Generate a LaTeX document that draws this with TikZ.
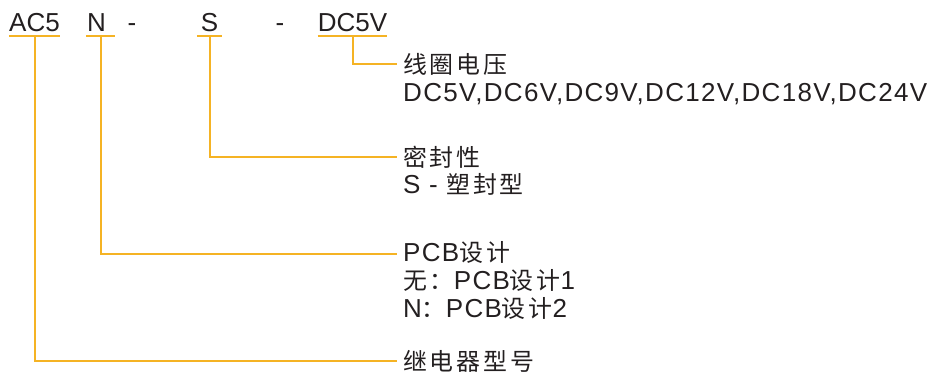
\documentclass[tikz,border=0pt]{standalone}
\usepackage{fontspec}
\setmainfont{Liberation Sans}
\newfontfamily\zhfont{Noto Sans CJK SC}[Scale=0.92,LetterSpace=12]
\newfontfamily\enfont{Liberation Sans}[LetterSpace=5]
\newcommand{\zh}[1]{{\zhfont #1}}
\usepackage{tikz}
\usetikzlibrary{positioning}
\definecolor{leadcol}{HTML}{F5B324}
\definecolor{inkcol}{HTML}{231F20}

\begin{document}
\begin{tikzpicture}[x=1pt,y=-1pt,
code/.style={inner sep=0pt,anchor=south,text=inkcol,font=\fontsize{26}{30}\selectfont},
desc/.style={inner xsep=6pt,inner ysep=0pt,anchor=base west,text=inkcol,font=\fontsize{26}{30}\selectfont\enfont},
lead/.style={draw=leadcol,line width=2pt}]
\useasboundingbox (0,0) rectangle (931,375);
\node[code,minimum width=51] (ac) at (34.5,32) {AC5};
\node[code,minimum width=29] (pcb) at (100.5,32) {N\kern8pt};
\node[code] (d1) at (132,32) {-};
\node[code,minimum width=25] (seal) at (209.5,32) {S};
\node[code] (d2) at (280,32) {-};
\node[code,minimum width=69] (volt) at (352.5,32) {DC5V};
\foreach \n in {ac,pcb,seal,volt} {
\draw[lead] ([yshift=-4pt]\n.south west) -- ([yshift=-4pt]\n.south east);
}
\node[desc] (coil) at (397,73) {\zh{线圈电压}};
\node[desc] (coilv) at (397,101) {DC5V,DC6V,DC9V,DC12V,DC18V,DC24V};
\node[desc] (sealt) at (397,166) {\zh{密封性}};
\node[desc] (sealv) at (397,193) {S - \zh{塑封型}};
\node[desc] (pcbt) at (397,261) {PCB\zh{设计}};
\node[desc] (pcba) at (397,289) {\zh{无：}PCB\zh{设计}1};
\node[desc] (pcbb) at (397,317) {N\zh{：}PCB\zh{设计}2};
\node[desc] (typ) at (397,370) {\zh{继电器型号}};
\draw[lead] ([yshift=-4pt]volt.south) |- (coil.west);
\draw[lead] ([yshift=-4pt]seal.south) |- (sealt.west);
\draw[lead] ([yshift=-4pt]pcb.south) |- ([yshift=-2pt]pcbt.west);
\draw[lead] ([yshift=-4pt]ac.south) |- (typ.west);
\end{tikzpicture}
\end{document}
